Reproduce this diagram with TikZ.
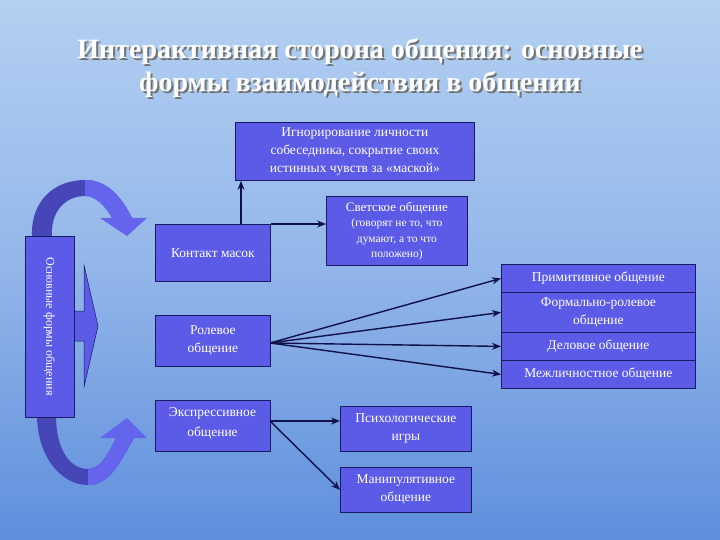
\documentclass[tikz,border=0pt]{standalone}
\usepackage{fontspec}
\setmainfont{Liberation Serif}
\usetikzlibrary{arrows.meta}
\definecolor{boxfill}{HTML}{5B5BE8}
\definecolor{boxline}{HTML}{1A1A60}
\definecolor{arcdark}{HTML}{4646B8}
\definecolor{arclight}{HTML}{6464EC}
\definecolor{bgtop}{HTML}{B4D0F2}
\definecolor{bgbot}{HTML}{5E8EDC}
\definecolor{linec}{HTML}{10104A}
\tikzset{
  box/.style={draw=boxline, line width=0.8pt, fill=boxfill, text=white, align=center,
    anchor=north west, inner sep=1pt, font=\fontsize{13.5}{18}\selectfont},
  conn/.style={draw=linec, line width=1.4pt, -{Stealth[length=9pt,width=7pt]}},
  ttl/.style={text=white, font=\fontsize{28}{33}\selectfont\bfseries, align=center}
}
\begin{document}
\begin{tikzpicture}[x=1pt,y=-1pt]
\useasboundingbox (0,0) rectangle (720,540);
\shade[top color=bgtop, bottom color=bgbot, middle color=bgtop!60!bgbot] (0,0) rectangle (720,540);
% title
\node[ttl, text=black!55] at (362,70) {Интерактивная сторона общения: основные\\формы взаимодействия в общении};
\node[ttl] (title) at (360,68) {Интерактивная сторона общения: основные\\формы взаимодействия в общении};
% curved arrows
\fill[arcdark] (32,238) .. controls (30,200) and (55,180) .. (85,180)
  .. controls (108,180) and (122,198) .. (132,218) -- (112,218)
  .. controls (105,205) and (95,196) .. (85,196)
  .. controls (65,196) and (50,212) .. (52,238) -- cycle;
\fill[arclight] (85,180) .. controls (108,180) and (122,198) .. (132,218) -- (112,218)
  .. controls (105,205) and (95,196) .. (85,196) -- cycle;
\fill[arclight] (100,218) -- (147,218) -- (127,236) -- cycle;
\fill[arcdark] (37,415) .. controls (37,455) and (60,485) .. (88,485)
  .. controls (110,485) and (120,462) .. (134,438) -- (116,438)
  .. controls (108,455) and (100,469) .. (88,469)
  .. controls (70,469) and (56,450) .. (56,415) -- cycle;
\fill[arclight] (88,485) .. controls (110,485) and (120,462) .. (134,438) -- (116,438)
  .. controls (108,455) and (100,469) .. (88,469) -- cycle;
\fill[arclight] (100,438) -- (147,438) -- (127,418) -- cycle;
% block arrow
\fill[boxfill, draw=boxline, line width=0.5pt] (74,311) -- (84,311) -- (84,265) -- (98,326) -- (84,387) -- (84,341) -- (74,341) -- cycle;
% vertical label
\node[draw=boxline, line width=0.8pt, fill=boxfill, minimum width=49pt, minimum height=181pt, inner sep=0pt] (lab) at (49.5,326.5) {};
\node[text=white, rotate=-90, font=\fontsize{12}{14}\selectfont] at (lab.center) {Основные формы общения};
% boxes
\node[box, minimum width=239pt, minimum height=58pt] (ign) at (235,122) {Игнорирование личности\\собеседника, сокрытие своих\\истинных чувств за «маской»};
\node[box, minimum width=141pt, minimum height=69pt, font=\fontsize{13}{15.5}\selectfont] (svet) at (326,196) {Светское общение\\{\fontsize{11.5}{15.5}\selectfont (говорят не то, что}\\{\fontsize{11.5}{15.5}\selectfont думают, а то что}\\{\fontsize{11.5}{15.5}\selectfont положено)}};
\node[box, minimum width=115pt, minimum height=57pt] (kont) at (155,224) {Контакт масок};
\node[box, minimum width=115pt, minimum height=51pt] (role) at (155,315) {Ролевое\\общение};
\node[box, minimum width=115pt, minimum height=51pt] (expr) at (155,400) {};
\node[text=white, align=center, font=\fontsize{13.5}{20}\selectfont, anchor=north] at (212.5,404) {Экспрессивное\\общение};
\node[box, minimum width=194pt, minimum height=28pt] (prim) at (501,264) {Примитивное общение};
\node[box, minimum width=194pt, minimum height=40pt] (form) at (501,292) {Формально-ролевое\\общение};
\node[box, minimum width=194pt, minimum height=28pt] (delo) at (501,332) {Деловое общение};
\node[box, minimum width=194pt, minimum height=28pt] (mezh) at (501,360) {Межличностное общение};
\node[box, minimum width=131pt, minimum height=45pt] (psy) at (340,406) {Психологические\\игры};
\node[box, minimum width=131pt, minimum height=45pt] (man) at (340,467) {Манипулятивное\\общение};
% connectors
\draw[conn] (kont.north -| 241,0) -- (ign.south -| 241,0);
\draw[conn] (kont.north east) -- (svet.west |- kont.north east);
\coordinate (rs) at (270,343);
\draw[conn] (rs) -- (prim.west);
\draw[conn] (rs) -- (form.west);
\draw[conn] (rs) -- (delo.west);
\draw[conn] (rs) -- (mezh.west);
\coordinate (es) at (270,421);
\draw[conn] (es) -- (psy.west |- es);
\draw[conn] (es) -- (man.west);
\end{tikzpicture}
\end{document}
